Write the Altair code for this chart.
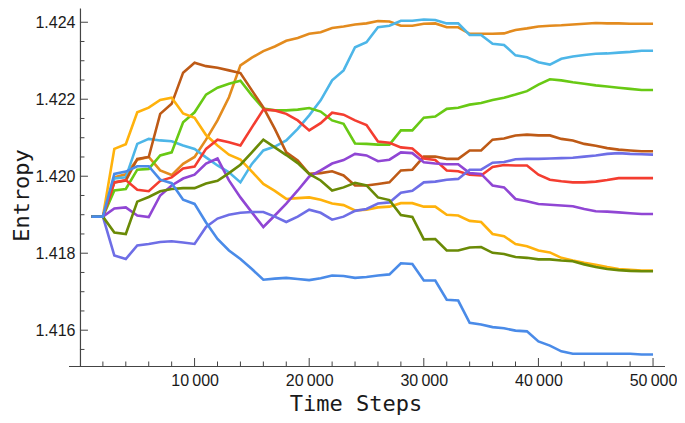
import altair as alt
import pandas as pd

steps = [1000, 2000, 3000, 4000, 5000, 6000, 7000, 8000, 9000, 10000,
         11000, 12000, 13000, 14000, 15000, 16000, 17000, 18000, 19000, 20000,
         21000, 22000, 23000, 24000, 25000, 26000, 27000, 28000, 29000, 30000,
         31000, 32000, 33000, 34000, 35000, 36000, 37000, 38000, 39000, 40000,
         41000, 42000, 43000, 44000, 45000, 46000, 47000, 48000, 49000, 50000]

orange = [1.41895, 1.41895, 1.41997, 1.42005, 1.42043, 1.42050, 1.42015, 1.42003, 1.42032, 1.42050,
          1.42095, 1.42145, 1.42205, 1.42288, 1.42308, 1.42325, 1.42337, 1.42352, 1.42359, 1.42370,
          1.42374, 1.42385, 1.42389, 1.42394, 1.42397, 1.42403, 1.42402, 1.42391, 1.42391, 1.42396,
          1.42397, 1.42387, 1.42387, 1.42370, 1.42370, 1.42370, 1.42371, 1.42380, 1.42384, 1.42389,
          1.42391, 1.42392, 1.42394, 1.42396, 1.42398, 1.42397, 1.42397, 1.42396, 1.42396, 1.42396]
light_blue = [1.41895, 1.41895, 1.41994, 1.41997, 1.42084, 1.42097, 1.42093, 1.42091, 1.42080, 1.42071,
              1.42049, 1.42028, 1.42010, 1.41984, 1.42032, 1.42067, 1.42077, 1.42093, 1.42123, 1.42158,
              1.42197, 1.42249, 1.42275, 1.42335, 1.42348, 1.42387, 1.42391, 1.42404, 1.42404, 1.42407,
              1.42406, 1.42397, 1.42397, 1.42367, 1.42367, 1.42344, 1.42341, 1.42314, 1.42309, 1.42296,
              1.42290, 1.42305, 1.42311, 1.42315, 1.42318, 1.42319, 1.42321, 1.42323, 1.42326, 1.42326]
lime = [1.41895, 1.41895, 1.41963, 1.41967, 1.42017, 1.42019, 1.42054, 1.42062, 1.42140, 1.42166,
        1.42212, 1.42230, 1.42240, 1.42248, 1.42210, 1.42176, 1.42171, 1.42171, 1.42173, 1.42177,
        1.42168, 1.42145, 1.42136, 1.42085, 1.42084, 1.42082, 1.42082, 1.42119, 1.42119, 1.42152,
        1.42155, 1.42175, 1.42178, 1.42186, 1.42190, 1.42198, 1.42204, 1.42212, 1.42221, 1.42238,
        1.42252, 1.42249, 1.42244, 1.42240, 1.42236, 1.42233, 1.42230, 1.42227, 1.42224, 1.42224]
brown = [1.41895, 1.41895, 1.41984, 1.41989, 1.42045, 1.42050, 1.42162, 1.42188, 1.42269, 1.42295,
         1.42286, 1.42282, 1.42275, 1.42268, 1.42223, 1.42179, 1.42123, 1.42062, 1.42041, 1.42006,
         1.42008, 1.42013, 1.42002, 1.41976, 1.41976, 1.41980, 1.41984, 1.42015, 1.42017, 1.42051,
         1.42051, 1.42045, 1.42045, 1.42067, 1.42067, 1.42095, 1.42098, 1.42106, 1.42108, 1.42106,
         1.42106, 1.42097, 1.42093, 1.42084, 1.42079, 1.42073, 1.42069, 1.42067, 1.42065, 1.42065]
gold = [1.41895, 1.41895, 1.42071, 1.42083, 1.42166, 1.42178, 1.42198, 1.42204, 1.42163, 1.42152,
        1.42107, 1.42080, 1.42056, 1.42043, 1.42012, 1.41980, 1.41962, 1.41941, 1.41943, 1.41945,
        1.41939, 1.41929, 1.41925, 1.41911, 1.41913, 1.41919, 1.41921, 1.41930, 1.41930, 1.41921,
        1.41921, 1.41900, 1.41898, 1.41884, 1.41881, 1.41850, 1.41844, 1.41824, 1.41818, 1.41807,
        1.41802, 1.41788, 1.41781, 1.41775, 1.41770, 1.41764, 1.41759, 1.41757, 1.41755, 1.41755]
red = [1.41895, 1.41895, 1.41984, 1.41990, 1.41965, 1.41961, 1.41988, 1.41997, 1.42020, 1.42025,
       1.42071, 1.42095, 1.42088, 1.42080, 1.42127, 1.42173, 1.42171, 1.42162, 1.42145, 1.42119,
       1.42138, 1.42165, 1.42160, 1.42145, 1.42133, 1.42090, 1.42087, 1.42075, 1.42072, 1.42046,
       1.42042, 1.42015, 1.42013, 1.42004, 1.42002, 1.42024, 1.42029, 1.42028, 1.42028, 1.42004,
       1.41991, 1.41987, 1.41984, 1.41984, 1.41986, 1.41990, 1.41995, 1.41995, 1.41995, 1.41995]
purple = [1.41895, 1.41895, 1.41916, 1.41919, 1.41898, 1.41894, 1.41950, 1.41976, 1.41994, 1.42004,
          1.42033, 1.42046, 1.41989, 1.41945, 1.41906, 1.41868, 1.41898, 1.41929, 1.41963, 1.41999,
          1.42015, 1.42033, 1.42042, 1.42058, 1.42054, 1.42039, 1.42043, 1.42062, 1.42060, 1.42036,
          1.42033, 1.42031, 1.42031, 1.42008, 1.42006, 1.41976, 1.41971, 1.41941, 1.41935, 1.41928,
          1.41926, 1.41924, 1.41922, 1.41915, 1.41909, 1.41908, 1.41906, 1.41904, 1.41902, 1.41902]
lavender = [1.41895, 1.41895, 1.41794, 1.41785, 1.41820, 1.41824, 1.41829, 1.41831, 1.41828, 1.41824,
            1.41868, 1.41890, 1.41900, 1.41905, 1.41907, 1.41907, 1.41895, 1.41881, 1.41895, 1.41913,
            1.41905, 1.41887, 1.41895, 1.41910, 1.41915, 1.41929, 1.41932, 1.41957, 1.41962, 1.41984,
            1.41986, 1.41991, 1.41993, 1.42017, 1.42017, 1.42035, 1.42037, 1.42044, 1.42045, 1.42045,
            1.42046, 1.42047, 1.42048, 1.42051, 1.42054, 1.42058, 1.42060, 1.42058, 1.42057, 1.42056]
olive = [1.41895, 1.41895, 1.41854, 1.41850, 1.41934, 1.41946, 1.41961, 1.41967, 1.41969, 1.41969,
         1.41981, 1.41988, 1.42008, 1.42030, 1.42062, 1.42095, 1.42075, 1.42055, 1.42034, 1.42006,
         1.41989, 1.41963, 1.41971, 1.41983, 1.41976, 1.41945, 1.41938, 1.41899, 1.41894, 1.41836,
         1.41837, 1.41807, 1.41807, 1.41815, 1.41816, 1.41801, 1.41798, 1.41790, 1.41788, 1.41784,
         1.41784, 1.41781, 1.41779, 1.41771, 1.41764, 1.41759, 1.41756, 1.41754, 1.41753, 1.41753]
blue = [1.41895, 1.41895, 1.42006, 1.42012, 1.42026, 1.42026, 1.41991, 1.41982, 1.41939, 1.41928,
        1.41880, 1.41837, 1.41807, 1.41785, 1.41759, 1.41731, 1.41734, 1.41736, 1.41733, 1.41730,
        1.41735, 1.41742, 1.41741, 1.41736, 1.41738, 1.41742, 1.41745, 1.41774, 1.41772, 1.41729,
        1.41729, 1.41679, 1.41677, 1.41619, 1.41615, 1.41608, 1.41605, 1.41599, 1.41597, 1.41571,
        1.41560, 1.41545, 1.41539, 1.41539, 1.41539, 1.41539, 1.41539, 1.41539, 1.41537, 1.41537]

series_names = ["orange", "light_blue", "lime", "brown", "gold",
                "red", "purple", "lavender", "olive", "blue"]
series_values = [orange, light_blue, lime, brown, gold, red, purple, lavender, olive, blue]
series_colors = ["#E38B1E", "#4DB6E8", "#68C914", "#BE5A16", "#FFB20C",
                 "#F43D30", "#9046D4", "#6E6EE6", "#6A8A06", "#4A8BE8"]

x_major = [10000, 20000, 30000, 40000, 50000]
x_minor = [2000, 4000, 6000, 8000, 12000, 14000, 16000, 18000, 22000, 24000, 26000, 28000,
           32000, 34000, 36000, 38000, 42000, 44000, 46000, 48000]
y_major = [1.416, 1.418, 1.420, 1.422, 1.424]
y_minor = [1.4155, 1.4165, 1.417, 1.4175, 1.4185, 1.419, 1.4195,
           1.4205, 1.421, 1.4215, 1.4225, 1.423, 1.4235]

rows = []
for name, vals in zip(series_names, series_values):
    for s, v in zip(steps, vals):
        rows.append({"step": s, "entropy": v, "series": name})
df = pd.DataFrame(rows)

# layout: whole page must stay within 685 x 423 (8px body margin)
W, H = 596, 358
PAD = {"left": 60.5, "top": 0, "right": 12.5, "bottom": 49}
Y_AXIS_SHIFT = 11.46  # y axis sits at x = 0, inside the padded x range
AXIS_COLOR = "#444444"

xs = alt.Scale(domain=[-1000, 51000], nice=False, zero=False)
ys = alt.Scale(domain=[1.41507, 1.42437], nice=False, zero=False)

x_axis = alt.Axis(
    values=x_major, title="Time Steps",
    labelExpr="replace(format(datum.value, ','), ',', '\u2009')",
    labelPadding=6, titleX=287, titleY=44, titleAlign="center",
    titleBaseline="alphabetic", titleAngle=0)
y_axis = alt.Axis(
    values=y_major, format=".3f", title="Entropy", offset=-Y_AXIS_SHIFT,
    labelPadding=5, titleX=-51, titleY=187, titleAlign="center",
    titleBaseline="alphabetic", titleAngle=270)

lines = alt.Chart(df).mark_line(strokeWidth=2.6, clip=True).encode(
    x=alt.X("step:Q", scale=xs, axis=x_axis),
    y=alt.Y("entropy:Q", scale=ys, axis=y_axis),
    color=alt.Color("series:N", scale=alt.Scale(domain=series_names, range=series_colors),
                    legend=None),
)

xmaj = alt.Chart(pd.DataFrame({"step": x_major})).mark_rule(color=AXIS_COLOR, strokeWidth=1).encode(
    x=alt.X("step:Q", scale=xs, axis=x_axis), y=alt.value(H), y2=alt.value(H - 8))
xmin = alt.Chart(pd.DataFrame({"step": x_minor})).mark_rule(color=AXIS_COLOR, strokeWidth=1).encode(
    x=alt.X("step:Q", scale=xs, axis=x_axis), y=alt.value(H), y2=alt.value(H - 4.5))
ymaj = alt.Chart(pd.DataFrame({"entropy": y_major})).mark_rule(color=AXIS_COLOR, strokeWidth=1).encode(
    y=alt.Y("entropy:Q", scale=ys, axis=y_axis),
    x=alt.value(Y_AXIS_SHIFT), x2=alt.value(Y_AXIS_SHIFT + 8))
ymin = alt.Chart(pd.DataFrame({"entropy": y_minor})).mark_rule(color=AXIS_COLOR, strokeWidth=1).encode(
    y=alt.Y("entropy:Q", scale=ys, axis=y_axis),
    x=alt.value(Y_AXIS_SHIFT), x2=alt.value(Y_AXIS_SHIFT + 4.5))

chart = alt.layer(lines, xmaj, xmin, ymaj, ymin).properties(
    width=W, height=H,
    autosize=alt.AutoSizeParams(type="none"),
    padding=PAD,
).configure_view(stroke=None).configure_axis(
    grid=False, ticks=False, tickSize=0,
    domainColor=AXIS_COLOR, domainWidth=1.2,
    labelFont="Liberation Sans", labelFontSize=16, labelColor="#1a1a1a",
    titleFont="DejaVu Sans Mono", titleFontSize=22, titleFontWeight="normal",
    titleColor="#1a1a1a",
)

chart.save("out.html", embed_options={"renderer": "svg", "actions": False})
